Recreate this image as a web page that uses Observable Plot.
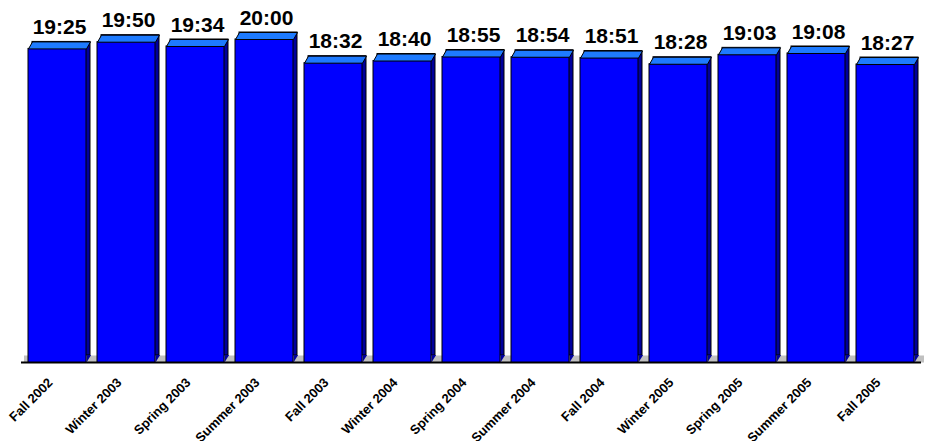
<!DOCTYPE html>
<html>
<head>
<meta charset="utf-8">
<script src="https://cdn.jsdelivr.net/npm/d3@7"></script>
<script src="https://cdn.jsdelivr.net/npm/@observablehq/plot@0.6"></script>
<style>
  html, body { margin: 0; padding: 0; background: #fff; }
</style>
</head>
<body>
<div id="chart"></div>
<script>
const seasons = ["Fall 2002", "Winter 2003", "Spring 2003", "Summer 2003", "Fall 2003", "Winter 2004", "Spring 2004", "Summer 2004", "Fall 2004", "Winter 2005", "Spring 2005", "Summer 2005", "Fall 2005"];
const times = ["19:25", "19:50", "19:34", "20:00", "18:32", "18:40", "18:55", "18:54", "18:51", "18:28", "19:03", "19:08", "18:27"];

const toSeconds = t => { const [m, s] = t.split(":").map(Number); return m * 60 + s; };
const data = seasons.map((s, i) => ({season: s, label: times[i], secs: toSeconds(times[i])}));

const FRONT = "#0000FF", TOP = "#1E7BFF", SIDE = "#00009C", FLOOR = "#C0C0C0";
const DEPTH_X = 4, DEPTH_Y = 7;
const FONT = "'Liberation Sans', Arial, Helvetica, sans-serif";

const base = {
  width: 930, height: 441,
  marginTop: 39, marginBottom: 79, marginLeft: 21, marginRight: 9,
  x: {type: "band", domain: seasons, paddingInner: 0.1625, paddingOuter: 0.072, axis: null},
  y: {domain: [0, 1200], axis: null},
  style: {fontFamily: FONT, background: "white"}
};

const probe = Plot.plot({...base, marks: [Plot.barY(data, {x: "season", y: "secs"})]});
const bw = probe.scale("x").bandwidth;
const h = bw / 2;

const topFace = {
  draw(ctx) {
    ctx.moveTo(-h, 0);
    ctx.lineTo(h, 0);
    ctx.lineTo(h + DEPTH_X, -DEPTH_Y);
    ctx.lineTo(-h + DEPTH_X, -DEPTH_Y);
    ctx.closePath();
  }
};
const sideFoot = {
  draw(ctx) {
    ctx.moveTo(h, -DEPTH_Y - 0.5);
    ctx.lineTo(h + DEPTH_X + 0.6, -DEPTH_Y - 0.5);
    ctx.lineTo(h, 0);
    ctx.closePath();
  }
};

const chart = Plot.plot({
  ...base,
  marks: [
    Plot.ruleY([0], {stroke: FLOOR, strokeWidth: DEPTH_Y, dy: -DEPTH_Y / 2, dx: 3}),
    Plot.ruleY([0], {stroke: "black", strokeWidth: 2}),
    Plot.barY(data, {x: "season", y: "secs", fill: SIDE, stroke: "black", strokeWidth: 1, dx: DEPTH_X, dy: -DEPTH_Y}),
    Plot.dot(data, {x: "season", y: () => 0, symbol: sideFoot, fill: SIDE, stroke: "none"}),
    Plot.barY(data, {x: "season", y: "secs", fill: FRONT, stroke: "black", strokeWidth: 1}),
    Plot.dot(data, {x: "season", y: "secs", symbol: topFace, fill: TOP, stroke: "black", strokeWidth: 1}),
    Plot.text(data, {x: "season", y: "secs", text: "label", fontSize: 21, fontWeight: "bold", fill: "black", fontFamily: FONT, dx: 2, dy: -21.7}),
    Plot.text(data, {x: "season", y: () => 0, text: "season", rotate: -45, textAnchor: "end", fontSize: 13, fontWeight: "bold", fill: "black", fontFamily: FONT, dx: -7, dy: 18})
  ]
});

document.getElementById("chart").appendChild(chart);
</script>
</body>
</html>
